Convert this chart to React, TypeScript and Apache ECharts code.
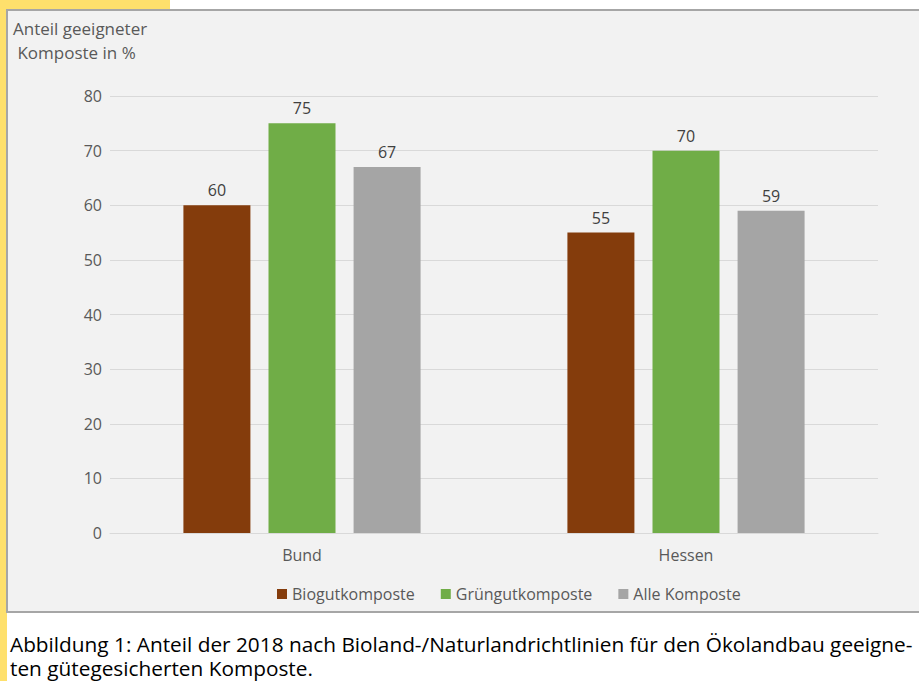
import React, { useEffect, useRef } from "react";
import * as echarts from "echarts";

const categories = ["Bund", "Hessen"];
const seriesNames = ["Biogutkomposte", "Grüngutkomposte", "Alle Komposte"];
const biogut = [60, 55];
const gruengut = [75, 70];
const alle = [67, 59];
const colors = ["#843c0c", "#70ad47", "#a5a5a5"];
const axisTitle = ["Anteil geeigneter", " Komposte in %"];
const caption = [
  "Abbildung 1: Anteil der 2018 nach Bioland-/Naturlandrichtlinien für den Ökolandbau geeigne-",
  "ten gütegesicherten Komposte.",
];

export default function App() {
  const ref = useRef<HTMLDivElement>(null);
  useEffect(() => {
    const chart = echarts.init(ref.current!, null, { renderer: "svg" });
    const font = "'Open Sans', sans-serif";
    const values = [biogut, gruengut, alle];
    chart.setOption({
      animation: false,
      textStyle: { fontFamily: font },
      graphic: [
        { type: "rect", z: -10, shape: { x: 0, y: 0, width: 170, height: 10 }, style: { fill: "#fee06c" } },
        { type: "rect", z: -10, shape: { x: 0, y: 0, width: 7, height: 681 }, style: { fill: "#fee06c" } },
        { type: "rect", z: -9, shape: { x: 7, y: 10, width: 930, height: 602 }, style: { fill: "#f2f2f2", stroke: "#a6a6a6", lineWidth: 2 } },
        { type: "rect", z: -9, shape: { x: 7, y: 613, width: 930, height: 80 }, style: { fill: "#ffffff" } },
        { type: "text", x: 13, y: 16, style: { text: axisTitle.join("\n"), fill: "#595959", fontSize: 17, lineHeight: 24, fontFamily: font, verticalAlign: "top" } },
        { type: "text", x: 10, y: 632, style: { text: caption.join("\n"), fill: "#000000", fontSize: 20.8, lineHeight: 24, fontFamily: font, verticalAlign: "top" } },
      ],
      grid: { left: 110, right: 41, top: 96, bottom: 148, containLabel: false },
      legend: {
        left: 272,
        top: 581,
        itemWidth: 10,
        itemHeight: 10,
        itemGap: 26,
        icon: "rect",
        textStyle: { color: "#595959", fontSize: 16, fontFamily: font },
        data: seriesNames,
      },
      xAxis: {
        type: "category",
        data: categories,
        axisLine: { lineStyle: { color: "#d9d9d9" } },
        axisTick: { show: false },
        axisLabel: { color: "#595959", fontSize: 16, margin: 14, fontFamily: font },
      },
      yAxis: {
        type: "value",
        min: 0,
        max: 80,
        interval: 10,
        axisLine: { show: false },
        axisTick: { show: false },
        splitLine: { lineStyle: { color: "#d9d9d9" } },
        axisLabel: { color: "#595959", fontSize: 16, margin: 8, fontFamily: font },
      },
      series: seriesNames.map((name, i) => ({
        name,
        type: "bar",
        data: values[i],
        barWidth: 67,
        barGap: "27%",
        itemStyle: { color: colors[i] },
        label: { show: true, position: "top", distance: 7, color: "#404040", fontSize: 16, fontFamily: font },
      })),
    });
    return () => chart.dispose();
  }, []);
  return <div ref={ref} style={{ position: "absolute", left: 0, top: 0, width: 919, height: 681 }} />;
}
